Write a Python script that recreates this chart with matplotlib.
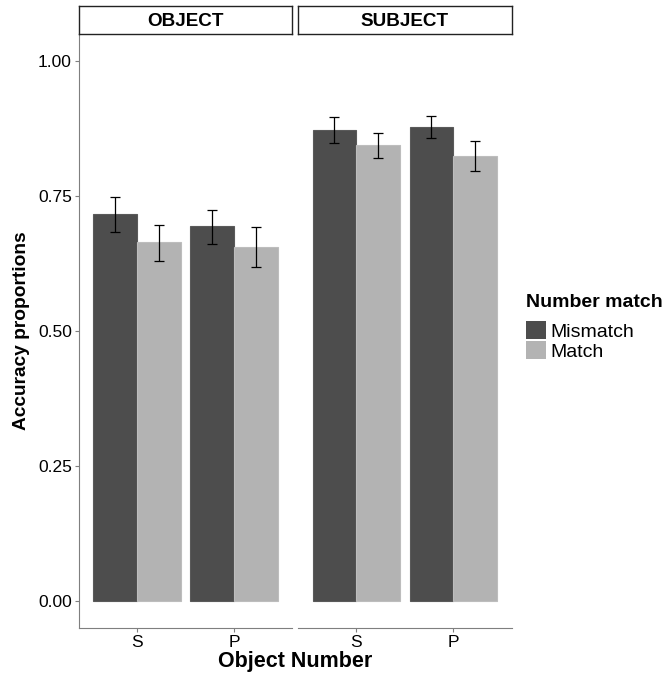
import matplotlib.pyplot as plt
from matplotlib.patches import Patch

plt.rcParams['font.family'] = ['Liberation Sans', 'DejaVu Sans']

# accuracy data: mean and error bar limits per panel
panels = ['OBJECT', 'SUBJECT']
obj_number = ['S', 'P']
match_levels = ['Mismatch', 'Match']

obj_mismatch = [0.717, 0.694]
obj_mismatch_lo = [0.684, 0.662]
obj_mismatch_hi = [0.748, 0.725]
obj_match = [0.664, 0.656]
obj_match_lo = [0.630, 0.619]
obj_match_hi = [0.696, 0.693]

subj_mismatch = [0.873, 0.878]
subj_mismatch_lo = [0.849, 0.858]
subj_mismatch_hi = [0.897, 0.898]
subj_match = [0.845, 0.825]
subj_match_lo = [0.820, 0.797]
subj_match_hi = [0.867, 0.851]

series = {
    'OBJECT': [(obj_mismatch, obj_mismatch_lo, obj_mismatch_hi),
               (obj_match, obj_match_lo, obj_match_hi)],
    'SUBJECT': [(subj_mismatch, subj_mismatch_lo, subj_mismatch_hi),
                (subj_match, subj_match_lo, subj_match_hi)],
}
colors = ['#4d4d4d', '#b3b3b3']
edges = ['#5a5a5a', '#bdbdbd']

W, H = 665, 682
fig = plt.figure(figsize=(W / 100, H / 100), dpi=100)

def px(x0, y0, x1, y1):
    return [x0 / W, 1 - y1 / H, (x1 - x0) / W, (y1 - y0) / H]

panel_x = [(78.7, 292.2), (298.0, 511.5)]
top, bottom = 34.0, 628.0

for i, name in enumerate(panels):
    x0, x1 = panel_x[i]
    ax = fig.add_axes(px(x0, top, x1, bottom))
    xs = range(1, len(obj_number) + 1)
    for j, (mean, lo, hi) in enumerate(series[name]):
        pos = [x + (j - 0.5) * 0.45 for x in xs]
        ax.bar(pos, mean, width=0.45, color=colors[j], edgecolor=edges[j],
               linewidth=0.8, zorder=2)
        err = [[m - l for m, l in zip(mean, lo)], [h - m for m, h in zip(mean, hi)]]
        ax.errorbar(pos, mean, yerr=err, fmt='none', ecolor='black',
                    elinewidth=0.9, capsize=3.4, capthick=0.9, zorder=3)
    ax.set_xlim(0.4, 2.6)
    ax.set_ylim(-0.05, 1.05)
    ax.set_xticks(list(xs))
    ax.set_xticklabels(obj_number, fontsize=12.5)
    for s in ['top', 'right']:
        ax.spines[s].set_visible(False)
    ax.spines['bottom'].set_color('#7f7f7f')
    ax.spines['left'].set_color('#7f7f7f')
    ax.tick_params(axis='x', length=3, color='#7f7f7f', pad=2)
    if i == 0:
        ax.set_yticks([0, 0.25, 0.5, 0.75, 1.0])
        ax.set_yticklabels(['0.00', '0.25', '0.50', '0.75', '1.00'], fontsize=12.5)
        ax.tick_params(axis='y', length=3, color='#7f7f7f', pad=2)
    else:
        ax.spines['left'].set_visible(False)
        ax.set_yticks([])

    # facet strip
    sax = fig.add_axes(px(x0, 6, x1, top))
    sax.set_xticks([])
    sax.set_yticks([])
    for s in sax.spines.values():
        s.set_color('#222222')
        s.set_linewidth(1.0)
    sax.text(0.5, 0.44, name, ha='center', va='center', fontsize=13.6,
             fontweight='bold', transform=sax.transAxes)

fig.text(22 / W, 1 - 331 / H, 'Accuracy proportions', rotation=90, ha='center',
         va='center', fontsize=13.8, fontweight='bold')
fig.text((78.7 + 511.5) / 2 / W, 1 - 662 / H, 'Object Number', ha='center',
         va='center', fontsize=15.5, fontweight='bold')

handles = [Patch(facecolor=c, edgecolor='none') for c in colors]
leg = fig.legend(handles, match_levels, loc='upper left',
                 bbox_to_anchor=(526 / W, 1 - 294 / H), frameon=False,
                 title='Number match', title_fontproperties={'weight': 'bold', 'size': 14},
                 fontsize=14, borderpad=0, borderaxespad=0, labelspacing=0.0,
                 handlelength=1.05, handleheight=1.1, handletextpad=0.2,
                 alignment='left')
leg._legend_box.sep = 7

fig.savefig('out.png', dpi=100)
